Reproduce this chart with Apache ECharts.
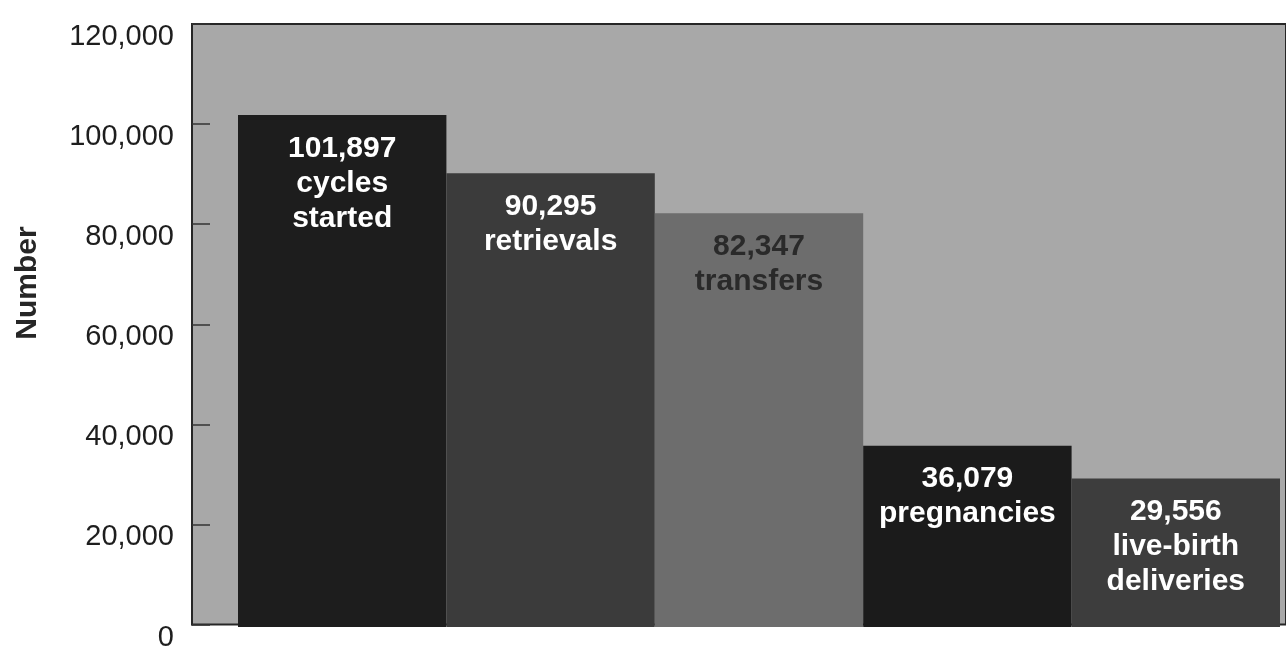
<!DOCTYPE html>
<html>
<head>
<meta charset="utf-8">
<script src="https://cdn.jsdelivr.net/npm/echarts@6/dist/echarts.min.js"></script>
<style>
html,body{margin:0;padding:0;background:#fff;}
#chart{width:1286px;height:652px;}
</style>
</head>
<body>
<div id="chart"></div>
<script>
const categories = ['cycles\nstarted', 'retrievals', 'transfers', 'pregnancies', 'live-birth\ndeliveries'];
const values = [101897, 90295, 82347, 36079, 29556];
const barColors = ['#1d1d1d', '#3b3b3b', '#6d6d6d', '#1b1b1b', '#3d3d3d'];
const labelColors = ['#ffffff', '#ffffff', '#2a2a2a', '#ffffff', '#ffffff'];
const yTicks = [0, 20000, 40000, 60000, 80000, 100000, 120000];
const yTitle = 'Number';

const fmt = v => v.toLocaleString('en-US');
const FONT = '"Liberation Sans", Arial, Helvetica, sans-serif';

const chart = echarts.init(document.getElementById('chart'), null, {renderer: 'canvas'});
chart.setOption({
  animation: false,
  backgroundColor: '#ffffff',
  grid: [
    {left: 192, right: -8, top: 24, bottom: 25, show: true, backgroundColor: '#a8a8a8', borderColor: '#262626', borderWidth: 2},
    {left: 238, right: 6, top: 24, bottom: 25}
  ],
  xAxis: [
    {gridIndex: 0, type: 'value', show: false, min: 0, max: 1},
    {gridIndex: 1, type: 'category', data: categories, show: false}
  ],
  yAxis: [
    {
      gridIndex: 0, type: 'value', min: yTicks[0], max: yTicks[yTicks.length - 1], interval: 20000,
      axisLine: {show: true, lineStyle: {color: '#262626', width: 2}},
      axisTick: {show: true, inside: true, length: 18, lineStyle: {color: '#333', width: 1.5}},
      splitLine: {show: false},
      axisLabel: {
        formatter: v => fmt(v), fontFamily: FONT, fontSize: 29, color: '#1e1e1e',
        margin: 18, verticalAlign: 'top', lineHeight: 26
      }
    },
    {gridIndex: 1, type: 'value', show: false, min: yTicks[0], max: yTicks[yTicks.length - 1], splitLine: {show: false}}
  ],
  graphic: [{
    type: 'text', x: 28, y: 283, rotation: Math.PI / 2,
    style: {text: yTitle, font: 'bold 30px ' + FONT, fill: '#262626', textAlign: 'center', textVerticalAlign: 'middle'}
  }],
  series: [{
    type: 'bar', xAxisIndex: 1, yAxisIndex: 1,
    barWidth: '100%', barCategoryGap: '0%',
    data: values.map((v, i) => ({
      value: v,
      itemStyle: {color: barColors[i]},
      label: {color: labelColors[i]}
    })),
    label: {
      show: true, position: 'insideTop', distance: 16,
      formatter: p => fmt(p.value) + '\n' + categories[p.dataIndex],
      fontFamily: FONT, fontWeight: 'bold', fontSize: 30, lineHeight: 35, align: 'center'
    }
  }]
});
</script>
</body>
</html>
